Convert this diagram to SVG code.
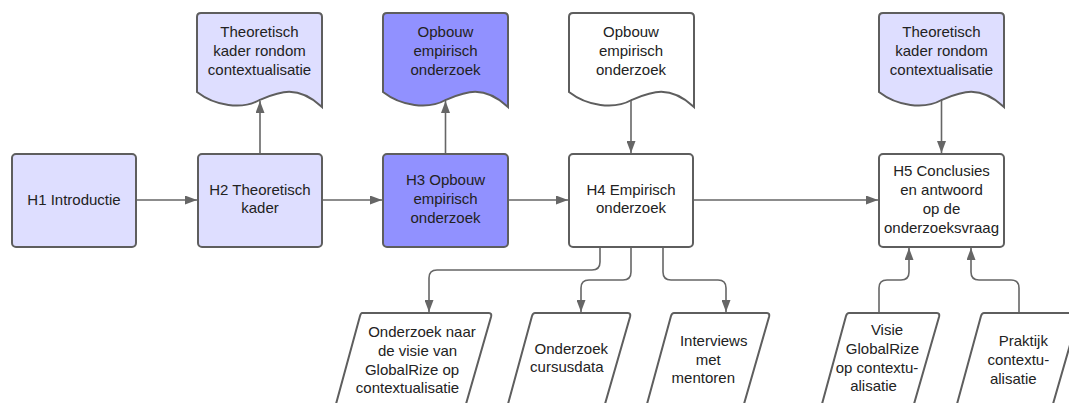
<svg xmlns="http://www.w3.org/2000/svg" width="1069" height="403" viewBox="0 0 1069 403">
<style>
.box{stroke:#5e5e5e;stroke-width:2;}
.lt{fill:#dedeff;}
.dk{fill:#9191ff;}
.wh{fill:#ffffff;}
.t{font-family:"Liberation Sans",Arial,sans-serif;font-size:15px;fill:#222;text-anchor:middle;}
.c{fill:none;stroke:#666;stroke-width:1.6;marker-end:url(#ah);}
</style>
<defs>
<marker id="ah" markerUnits="userSpaceOnUse" markerWidth="12" markerHeight="9" refX="12" refY="4.5" orient="auto">
<path d="M0,0 L12,4.5 L0,9 Z" fill="#666"/>
</marker>
</defs>
<rect width="1069" height="403" fill="#ffffff"/>
<g id="connectors">
<path class="c" d="M136,200 H197"/>
<path class="c" d="M322,200 H382"/>
<path class="c" d="M508,200 H568"/>
<path class="c" d="M693,200 H878"/>
<path class="c" d="M260,154 V101"/>
<path class="c" d="M445.5,154 V101"/>
<path class="c" d="M631,100 V153"/>
<path class="c" d="M941.5,100 V153"/>
<path class="c" d="M600,247 V262 Q600,270 592,270 H437 Q429,270 429,278 V312"/>
<path class="c" d="M631,247 V272 Q631,280 623,280 H589 Q581,280 581,288 V312"/>
<path class="c" d="M663,247 V272 Q663,280 671,280 H718 Q726,280 726,288 V312"/>
<path class="c" d="M879,313 V288 Q879,280 887,280 H901 Q909,280 909,272 V248"/>
<path class="c" d="M1019,313 V288 Q1019,280 1011,280 H979 Q971,280 971,272 V248"/>
</g>
<g id="h1">
<rect class="box lt" x="12" y="154" width="124" height="93" rx="4"/>
<text class="t" x="74" y="204.5">H1 Introductie</text>
</g>
<g id="h2">
<rect class="box lt" x="198" y="154" width="124" height="93" rx="4"/>
<text class="t" x="260" y="194.5">H2 Theoretisch</text>
<text class="t" x="260" y="213">kader</text>
</g>
<g id="h3">
<rect class="box dk" x="383" y="154" width="125" height="93" rx="4"/>
<text class="t" x="445.5" y="184.8">H3 Opbouw</text>
<text class="t" x="445.5" y="203.8">empirisch</text>
<text class="t" x="445.5" y="222.5">onderzoek</text>
</g>
<g id="h4">
<rect class="box wh" x="569" y="154" width="124" height="93" rx="4"/>
<text class="t" x="631" y="194.8">H4 Empirisch</text>
<text class="t" x="631" y="213.3">onderzoek</text>
</g>
<g id="h5">
<rect class="box wh" x="879" y="154" width="125" height="93" rx="4"/>
<text class="t" x="941.5" y="175.5">H5 Conclusies</text>
<text class="t" x="941.5" y="194.8">en antwoord</text>
<text class="t" x="941.5" y="213.8">op de</text>
<text class="t" x="941.5" y="233">onderzoeksvraag</text>
</g>
<g id="doc1">
<path class="box lt" d="M197,17 Q197,13 201,13 H318 Q322,13 322,17 V107 C297,84 279,92 259.5,100 C242,110 215,106 197,92 Z"/>
<text class="t" x="259.5" y="37">Theoretisch</text>
<text class="t" x="259.5" y="55.5">kader rondom</text>
<text class="t" x="259.5" y="74.5">contextualisatie</text>
</g>
<g id="doc2">
<path class="box dk" d="M383,17 Q383,13 387,13 H504 Q508,13 508,17 V107 C483,84 465,92 445.5,100 C428,110 401,106 383,92 Z"/>
<text class="t" x="445.5" y="37">Opbouw</text>
<text class="t" x="445.5" y="55.5">empirisch</text>
<text class="t" x="445.5" y="74.5">onderzoek</text>
</g>
<g id="doc3">
<path class="box wh" d="M569,17 Q569,13 573,13 H690 Q694,13 694,17 V107 C669,84 651,92 631.5,100 C614,110 587,106 569,92 Z"/>
<text class="t" x="631" y="37">Opbouw</text>
<text class="t" x="631" y="55.5">empirisch</text>
<text class="t" x="631" y="74.5">onderzoek</text>
</g>
<g id="doc4">
<path class="box lt" d="M879,17 Q879,13 883,13 H1000 Q1004,13 1004,17 V107 C979,84 961,92 941.5,100 C924,110 897,106 879,92 Z"/>
<text class="t" x="941.5" y="37">Theoretisch</text>
<text class="t" x="941.5" y="55.5">kader rondom</text>
<text class="t" x="941.5" y="74.5">contextualisatie</text>
</g>
<g id="p1">
<path class="box wh" d="M362,313 H489 Q492,313 491,317 L466,404 L336,404 L360,316 Q361,313 362,313 Z"/>
<text class="t" x="422" y="337">Onderzoek naar</text>
<text class="t" x="417.5" y="355.8">de visie van</text>
<text class="t" x="412" y="374.6">GlobalRize op</text>
<text class="t" x="407.5" y="393.4">contextualisatie</text>
</g>
<g id="p2">
<path class="box wh" d="M535,313 H628 Q631,313 630,317 L605,404 L508,404 L532,316 Q533,313 535,313 Z"/>
<text class="t" x="571.3" y="353.8">Onderzoek</text>
<text class="t" x="566.8" y="372.2">cursusdata</text>
</g>
<g id="p3">
<path class="box wh" d="M674,313 H767 Q770,313 769,317 L744,404 L647,404 L671,316 Q672,313 674,313 Z"/>
<text class="t" x="713.7" y="345.5">Interviews</text>
<text class="t" x="708.3" y="364.5">met</text>
<text class="t" x="703.3" y="383">mentoren</text>
</g>
<g id="p4">
<path class="box wh" d="M849,313 H937 Q940,313 939,317 L914,404 L822,404 L846,316 Q847,313 849,313 Z"/>
<text class="t" x="887" y="335">Visie</text>
<text class="t" x="882.5" y="353.8">GlobalRize</text>
<text class="t" x="877" y="372.6">op contextu-</text>
<text class="t" x="873.5" y="391.4">alisatie</text>
</g>
<g id="p5">
<path class="box wh" d="M984,313 H1076 Q1079,313 1078,317 L1053,404 L957,404 L981,316 Q982,313 984,313 Z"/>
<text class="t" x="1023.3" y="346">Praktijk</text>
<text class="t" x="1018.3" y="365">contextu-</text>
<text class="t" x="1013.3" y="384">alisatie</text>
</g>
</svg>
